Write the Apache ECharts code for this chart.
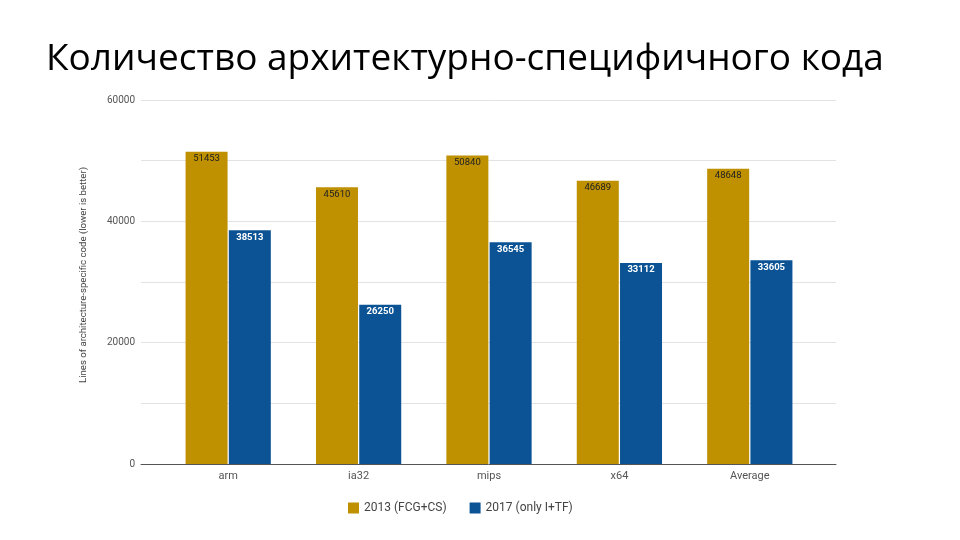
<!DOCTYPE html>
<html><head><meta charset="utf-8">
<script src="https://cdn.jsdelivr.net/npm/echarts@6/dist/echarts.min.js"></script>
<style>html,body{margin:0;padding:0;background:#fff}#c{width:960px;height:540px}</style>
</head><body><div id="c"></div>
<script>
const categories = ['arm', 'ia32', 'mips', 'x64', 'Average'];
const values2013 = [51453, 45610, 50840, 46689, 48648];
const values2017 = [38513, 26250, 36545, 33112, 33605];
const seriesNames = ['2013 (FCG+CS)', '2017 (only I+TF)'];
const yLabels = [0, 20000, 40000, 60000];

const chart = echarts.init(document.getElementById('c'));
const font = 'Roboto, "Noto Sans", sans-serif';
chart.setOption({
  animation: false,
  title: {
    text: 'Количество архитектурно-специфичного кода',
    left: 41, top: 36,
    textStyle: { fontFamily: '"Open Sans", "Noto Sans", sans-serif', fontSize: 37, fontWeight: 'normal', color: '#000' }
  },
  legend: {
    bottom: 21, left: 343,
    itemWidth: 11, itemHeight: 11, itemGap: 23,
    icon: 'rect',
    textStyle: { fontFamily: font, fontSize: 12, color: '#444' },
    data: seriesNames
  },
  grid: [
    { left: 141, right: 124, top: 100, bottom: 76 },
    { left: 163, right: 145, top: 100, bottom: 76 }
  ],
  xAxis: [
    { type: 'category', gridIndex: 0, data: categories,
      axisLine: { lineStyle: { color: '#555', width: 1 } },
      axisTick: { show: false }, axisLabel: { show: false } },
    { type: 'category', gridIndex: 1, data: categories,
      axisLine: { show: false }, axisTick: { show: false },
      axisLabel: { fontFamily: font, fontSize: 11, color: '#555', margin: 7 } }
  ],
  yAxis: [
    { type: 'value', gridIndex: 0, min: 0, max: 60000, interval: 10000,
      name: 'Lines of architecture-specific code (lower is better)',
      nameLocation: 'middle', nameGap: 52, nameRotate: 90,
      nameTextStyle: { fontFamily: font, fontSize: 9.6, color: '#444', padding: [0, 0, 0, 14] },
      axisLine: { show: false }, axisTick: { show: false },
      axisLabel: { fontFamily: font, fontSize: 10, color: '#555', margin: 6,
        formatter: v => yLabels.indexOf(v) >= 0 ? String(v) : '' },
      splitLine: { lineStyle: { color: '#e3e3e3' } } },
    { type: 'value', gridIndex: 1, min: 0, max: 60000, interval: 10000,
      show: false, splitLine: { show: false } }
  ],
  series: [
    { name: seriesNames[0], type: 'bar', xAxisIndex: 1, yAxisIndex: 1,
      data: values2013, barWidth: 42, barGap: '3%',
      itemStyle: { color: '#bf9000' },
      label: { show: true, position: 'insideTop', distance: 2,
        fontFamily: font, fontSize: 9.5, color: '#222' } },
    { name: seriesNames[1], type: 'bar', xAxisIndex: 1, yAxisIndex: 1,
      data: values2017, barWidth: 42,
      itemStyle: { color: '#0b5394' },
      label: { show: true, position: 'insideTop', distance: 2,
        fontFamily: font, fontSize: 9.5, fontWeight: 'bold', color: '#fff' } }
  ]
});
</script></body></html>
